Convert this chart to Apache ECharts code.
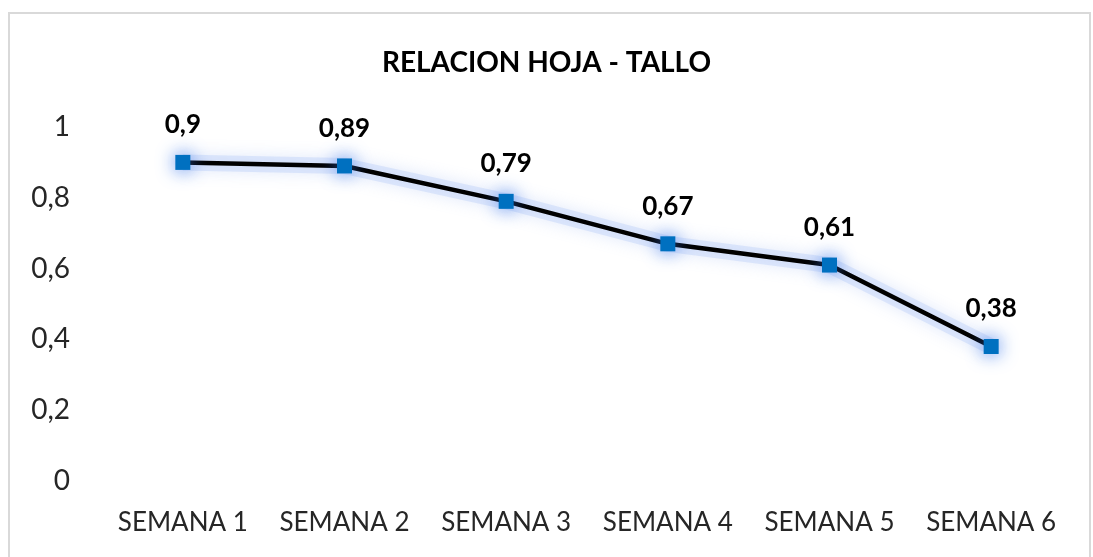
<!DOCTYPE html>
<html lang="es">
<head>
    <meta charset="utf-8">
    <script src="https://cdn.jsdelivr.net/npm/echarts@6/dist/echarts.min.js"></script>
    <style>
        html, body { margin: 0; padding: 0; background: #fff; }
        #chart { width: 1093px; height: 557px; }
    </style>
</head>
<body>
<div id="chart"></div>
<script type="text/javascript">
    var semanas = ['SEMANA 1', 'SEMANA 2', 'SEMANA 3', 'SEMANA 4', 'SEMANA 5', 'SEMANA 6'];
    var relacion = [0.9, 0.89, 0.79, 0.67, 0.61, 0.38];

    var fuente = 'Lato';
    var chart = echarts.init(document.getElementById('chart'));

    function coma(v) {
        return String(v).replace('.', ',');
    }

    var option = {
        backgroundColor: '#fff',
        animation: false,
        title: {
            text: 'RELACION HOJA - TALLO',
            left: 'center',
            top: 44,
            textStyle: { fontFamily: fuente, fontSize: 28, fontWeight: 'bold', color: '#000' }
        },
        graphic: [{
            type: 'rect',
            shape: { x: 9, y: 13, width: 1081, height: 560 },
            style: { fill: 'none', stroke: '#d9d9d9', lineWidth: 2 },
            z: -1
        }],
        grid: { left: 102, right: 21, top: 127, bottom: 76 },
        xAxis: {
            type: 'category',
            data: semanas,
            axisLine: { show: false },
            axisTick: { show: false },
            axisLabel: { interval: 0, margin: 29, fontFamily: fuente, fontSize: 26, color: '#262626' }
        },
        yAxis: {
            type: 'value',
            min: 0,
            max: 1,
            interval: 0.2,
            splitLine: { show: false },
            axisLine: { show: false },
            axisTick: { show: false },
            axisLabel: {
                margin: 32, fontFamily: fuente, fontSize: 28, color: '#262626',
                formatter: function (v) { return coma(Math.round(v * 10) / 10); }
            }
        },
        series: [{
            // resplandor azul bajo la línea
            type: 'line',
            data: relacion,
            symbol: 'none',
            silent: true,
            z: 1,
            lineStyle: {
                color: 'rgba(185,205,248,0.4)', width: 16,
                shadowColor: 'rgba(130,165,240,0.6)', shadowBlur: 16
            }
        }, {
            type: 'line',
            data: relacion,
            symbol: 'rect',
            symbolSize: 15,
            z: 3,
            lineStyle: {
                color: '#000', width: 4.5
            },
            itemStyle: {
                color: '#0070C0',
                shadowColor: 'rgba(60,120,235,0.95)', shadowBlur: 18
            },
            label: {
                show: true,
                position: 'top',
                distance: 17,
                fontFamily: fuente, fontSize: 26, fontWeight: 'bold', color: '#000',
                formatter: function (p) { return coma(p.value); }
            }
        }]
    };
    chart.setOption(option);
</script>
</body>
</html>
